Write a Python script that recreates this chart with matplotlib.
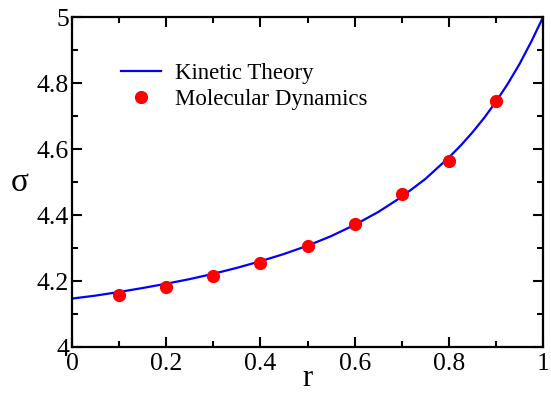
import numpy as np
import matplotlib
matplotlib.use('Agg')
import matplotlib.pyplot as plt
from matplotlib.ticker import MultipleLocator

plt.rcParams['font.family'] = ['Liberation Serif', 'DejaVu Serif']

# curva teorica
r_kt = [0.0, 0.05, 0.1, 0.15, 0.2, 0.25, 0.3, 0.35, 0.4, 0.45, 0.5, 0.55,
        0.6, 0.65, 0.7, 0.75, 0.8, 0.825, 0.85, 0.875, 0.9, 0.925, 0.95,
        0.975, 1.0]
sigma_kt = [4.148, 4.157, 4.168, 4.180, 4.193, 4.207, 4.223, 4.241, 4.261,
            4.283, 4.308, 4.337, 4.371, 4.410, 4.456, 4.510, 4.575, 4.611,
            4.651, 4.695, 4.744, 4.798, 4.858, 4.926, 5.0]

# puntos de dinamica molecular
r_md = [0.1, 0.2, 0.3, 0.4, 0.5, 0.6, 0.7, 0.8, 0.9]
sigma_md = [4.159, 4.184, 4.217, 4.255, 4.307, 4.373, 4.464, 4.564, 4.746]

fig = plt.figure(figsize=(5.51, 3.96), dpi=100)
ax = fig.add_axes([0.1307, 0.1225, 0.855, 0.8345])

ax.plot(r_kt, sigma_kt, color='#0000ff', lw=1.6, label='Kinetic Theory')
ax.plot(r_md, sigma_md, 'o', color='#ff0000', ms=8.5, label='Molecular Dynamics')

ax.set_xlim(0, 1)
ax.set_ylim(4, 5)
ax.xaxis.set_minor_locator(MultipleLocator(0.1))
ax.yaxis.set_minor_locator(MultipleLocator(0.1))
ax.set_xticks([0, 0.2, 0.4, 0.6, 0.8, 1.0])
ax.set_xticklabels(['0', '0.2', '0.4', '0.6', '0.8', '1'])
ax.set_yticks([4, 4.2, 4.4, 4.6, 4.8, 5])
ax.set_yticklabels(['4', '4.2', '4.4', '4.6', '4.8', '5'])

ax.tick_params(which='both', direction='in', top=True, right=True,
               width=1.5, labelsize=18.5)
ax.tick_params(which='major', length=7)
ax.tick_params(axis='x', which='major', pad=4)
ax.tick_params(axis='y', which='major', pad=2)
ax.tick_params(which='minor', length=4)
for s in ax.spines.values():
    s.set_linewidth(1.6)

ax.set_xlabel('r', fontsize=22, va='center')
ax.xaxis.set_label_coords(0.5, -0.095)
ax.set_ylabel('σ', fontsize=24, rotation=0, va='center')
ax.yaxis.set_label_coords(-0.11, 0.5)

ax.legend(loc='upper left', bbox_to_anchor=(0.085, 0.89), frameon=False,
          fontsize=16.5, handlelength=1.75, handletextpad=0.6, labelspacing=0.22,
          borderaxespad=0)

fig.savefig('out.png', dpi=100)
